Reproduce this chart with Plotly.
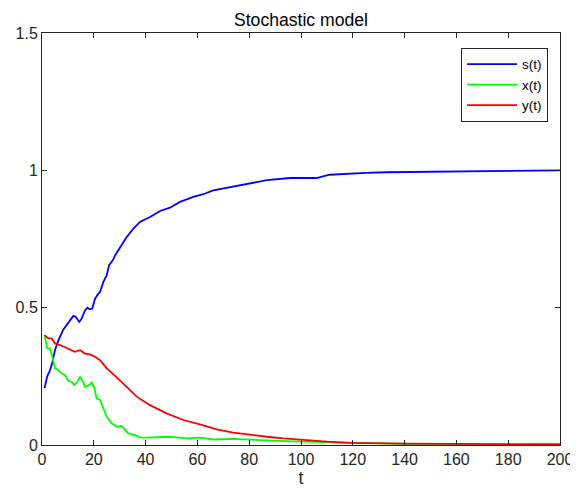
import plotly.graph_objects as go

# s(t)
t_s = [1, 2, 3, 4, 5, 6.3, 8.2, 10.2, 12.1, 13, 14.4, 15.3, 16.6, 17.5, 18.5, 19.4, 20.5, 21.7,
       22.4, 23.7, 25, 25.9, 27.5, 28.2, 29.5, 30.5, 32.7, 35.3, 37.8, 41.7, 45.6, 49.4, 53.3,
       58.4, 62.3, 66.1, 71.3, 76.4, 81.6, 86.8, 95.8, 100, 106, 111, 118, 125, 133, 141, 150,
       166, 180, 200]
s_vals = [0.207, 0.25, 0.27, 0.30, 0.345, 0.38, 0.42, 0.448, 0.47, 0.467, 0.448, 0.46, 0.49, 0.50,
          0.494, 0.497, 0.533, 0.55, 0.557, 0.594, 0.618, 0.655, 0.675, 0.69, 0.71, 0.725, 0.757,
          0.788, 0.812, 0.83, 0.852, 0.864, 0.885, 0.903, 0.913, 0.927, 0.937, 0.945, 0.955, 0.964,
          0.972, 0.973, 0.972, 0.984, 0.988, 0.991, 0.993, 0.994, 0.995, 0.997, 0.999, 1.0]

# x(t)
t_x = [1, 2, 3, 4, 5, 6.3, 7.6, 8.9, 10.2, 11.5, 12.5, 13.6, 14.7, 15.6, 16.6, 17.9, 19.2, 20.1,
       21.1, 22.4, 23.7, 25, 26.9, 28.8, 30.8, 32, 33.3, 35.9, 37.8, 40.4, 44.3, 48.1, 52, 55.9,
       61, 66.1, 73.8, 81.6, 89.3, 99.6, 110, 120, 135, 150, 170, 200]
x_vals = [0.40, 0.352, 0.352, 0.321, 0.279, 0.273, 0.26, 0.255, 0.233, 0.23, 0.218, 0.23, 0.248,
          0.236, 0.212, 0.216, 0.228, 0.212, 0.17, 0.164, 0.133, 0.103, 0.079, 0.067, 0.069, 0.055,
          0.042, 0.036, 0.028, 0.027, 0.028, 0.03, 0.028, 0.024, 0.027, 0.02, 0.022, 0.018, 0.016,
          0.012, 0.01, 0.006, 0.004, 0.002, 0.001, 0.0005]

# y(t)
t_y = [1, 2.4, 3.7, 5, 7, 8.9, 11.5, 12.7, 14.7, 16.6, 18.5, 20.5, 22.4, 25, 27.5, 30, 32, 36.6,
       41.7, 48.1, 54.6, 61, 67.4, 73.8, 80.3, 86.8, 93.2, 99.6, 110, 119, 130, 140, 160, 180, 200]
y_vals = [0.40, 0.388, 0.388, 0.37, 0.364, 0.355, 0.343, 0.339, 0.345, 0.333, 0.33, 0.321, 0.309,
          0.279, 0.258, 0.237, 0.218, 0.176, 0.145, 0.115, 0.091, 0.075, 0.057, 0.045, 0.037, 0.03,
          0.024, 0.019, 0.012, 0.008, 0.006, 0.005, 0.004, 0.003, 0.003]

x_ticks = list(range(0, 201, 20))
y_ticks = [0, 0.5, 1, 1.5]
y_tick_text = ["0", "0.5", "1", "1.5"]

axis_col = "#262626"
font_fam = "Liberation Sans, Arial, sans-serif"

fig = go.Figure()
fig.add_trace(go.Scatter(x=t_s, y=s_vals, mode="lines", name="s(t)",
                         line=dict(color="#0000FF", width=1.8)))
fig.add_trace(go.Scatter(x=t_x, y=x_vals, mode="lines", name="x(t)",
                         line=dict(color="#00FF00", width=1.8)))
fig.add_trace(go.Scatter(x=t_y, y=y_vals, mode="lines", name="y(t)",
                         line=dict(color="#FF0000", width=1.8)))

W, H = 570, 486
fig.update_layout(
    width=W, height=H,
    margin=dict(l=34, r=18, t=25, b=49, autoexpand=False),
    paper_bgcolor="white", plot_bgcolor="white",
    font=dict(family=font_fam, color=axis_col, size=16),
    title=dict(text="Stochastic model", x=(34 + 259) / W, xanchor="center",
               y=1 - 12 / H, yanchor="middle",
               font=dict(size=17.6, color="black", family=font_fam)),
    showlegend=True,
    legend=dict(x=0.977, y=0.964, xanchor="right", yanchor="top",
                bordercolor=axis_col, borderwidth=1, bgcolor="white",
                font=dict(size=13.5, color="black"), itemwidth=50,
                tracegroupgap=0),
    xaxis=dict(range=[0, 200], tickvals=x_ticks, ticks="inside", ticklen=5,
               tickcolor=axis_col, showline=True, linecolor=axis_col, linewidth=1,
               mirror="ticks", showgrid=False, zeroline=False, automargin=False,
               title=dict(text="t", font=dict(size=17.6), standoff=4),
               tickfont=dict(size=16)),
    yaxis=dict(range=[0, 1.5], tickvals=y_ticks, ticktext=y_tick_text, ticks="inside",
               ticklen=5, tickcolor=axis_col, showline=True, linecolor=axis_col, linewidth=1,
               mirror="ticks", showgrid=False, zeroline=False, automargin=False,
               tickfont=dict(size=16)),
)

fig.write_html("out.html")
